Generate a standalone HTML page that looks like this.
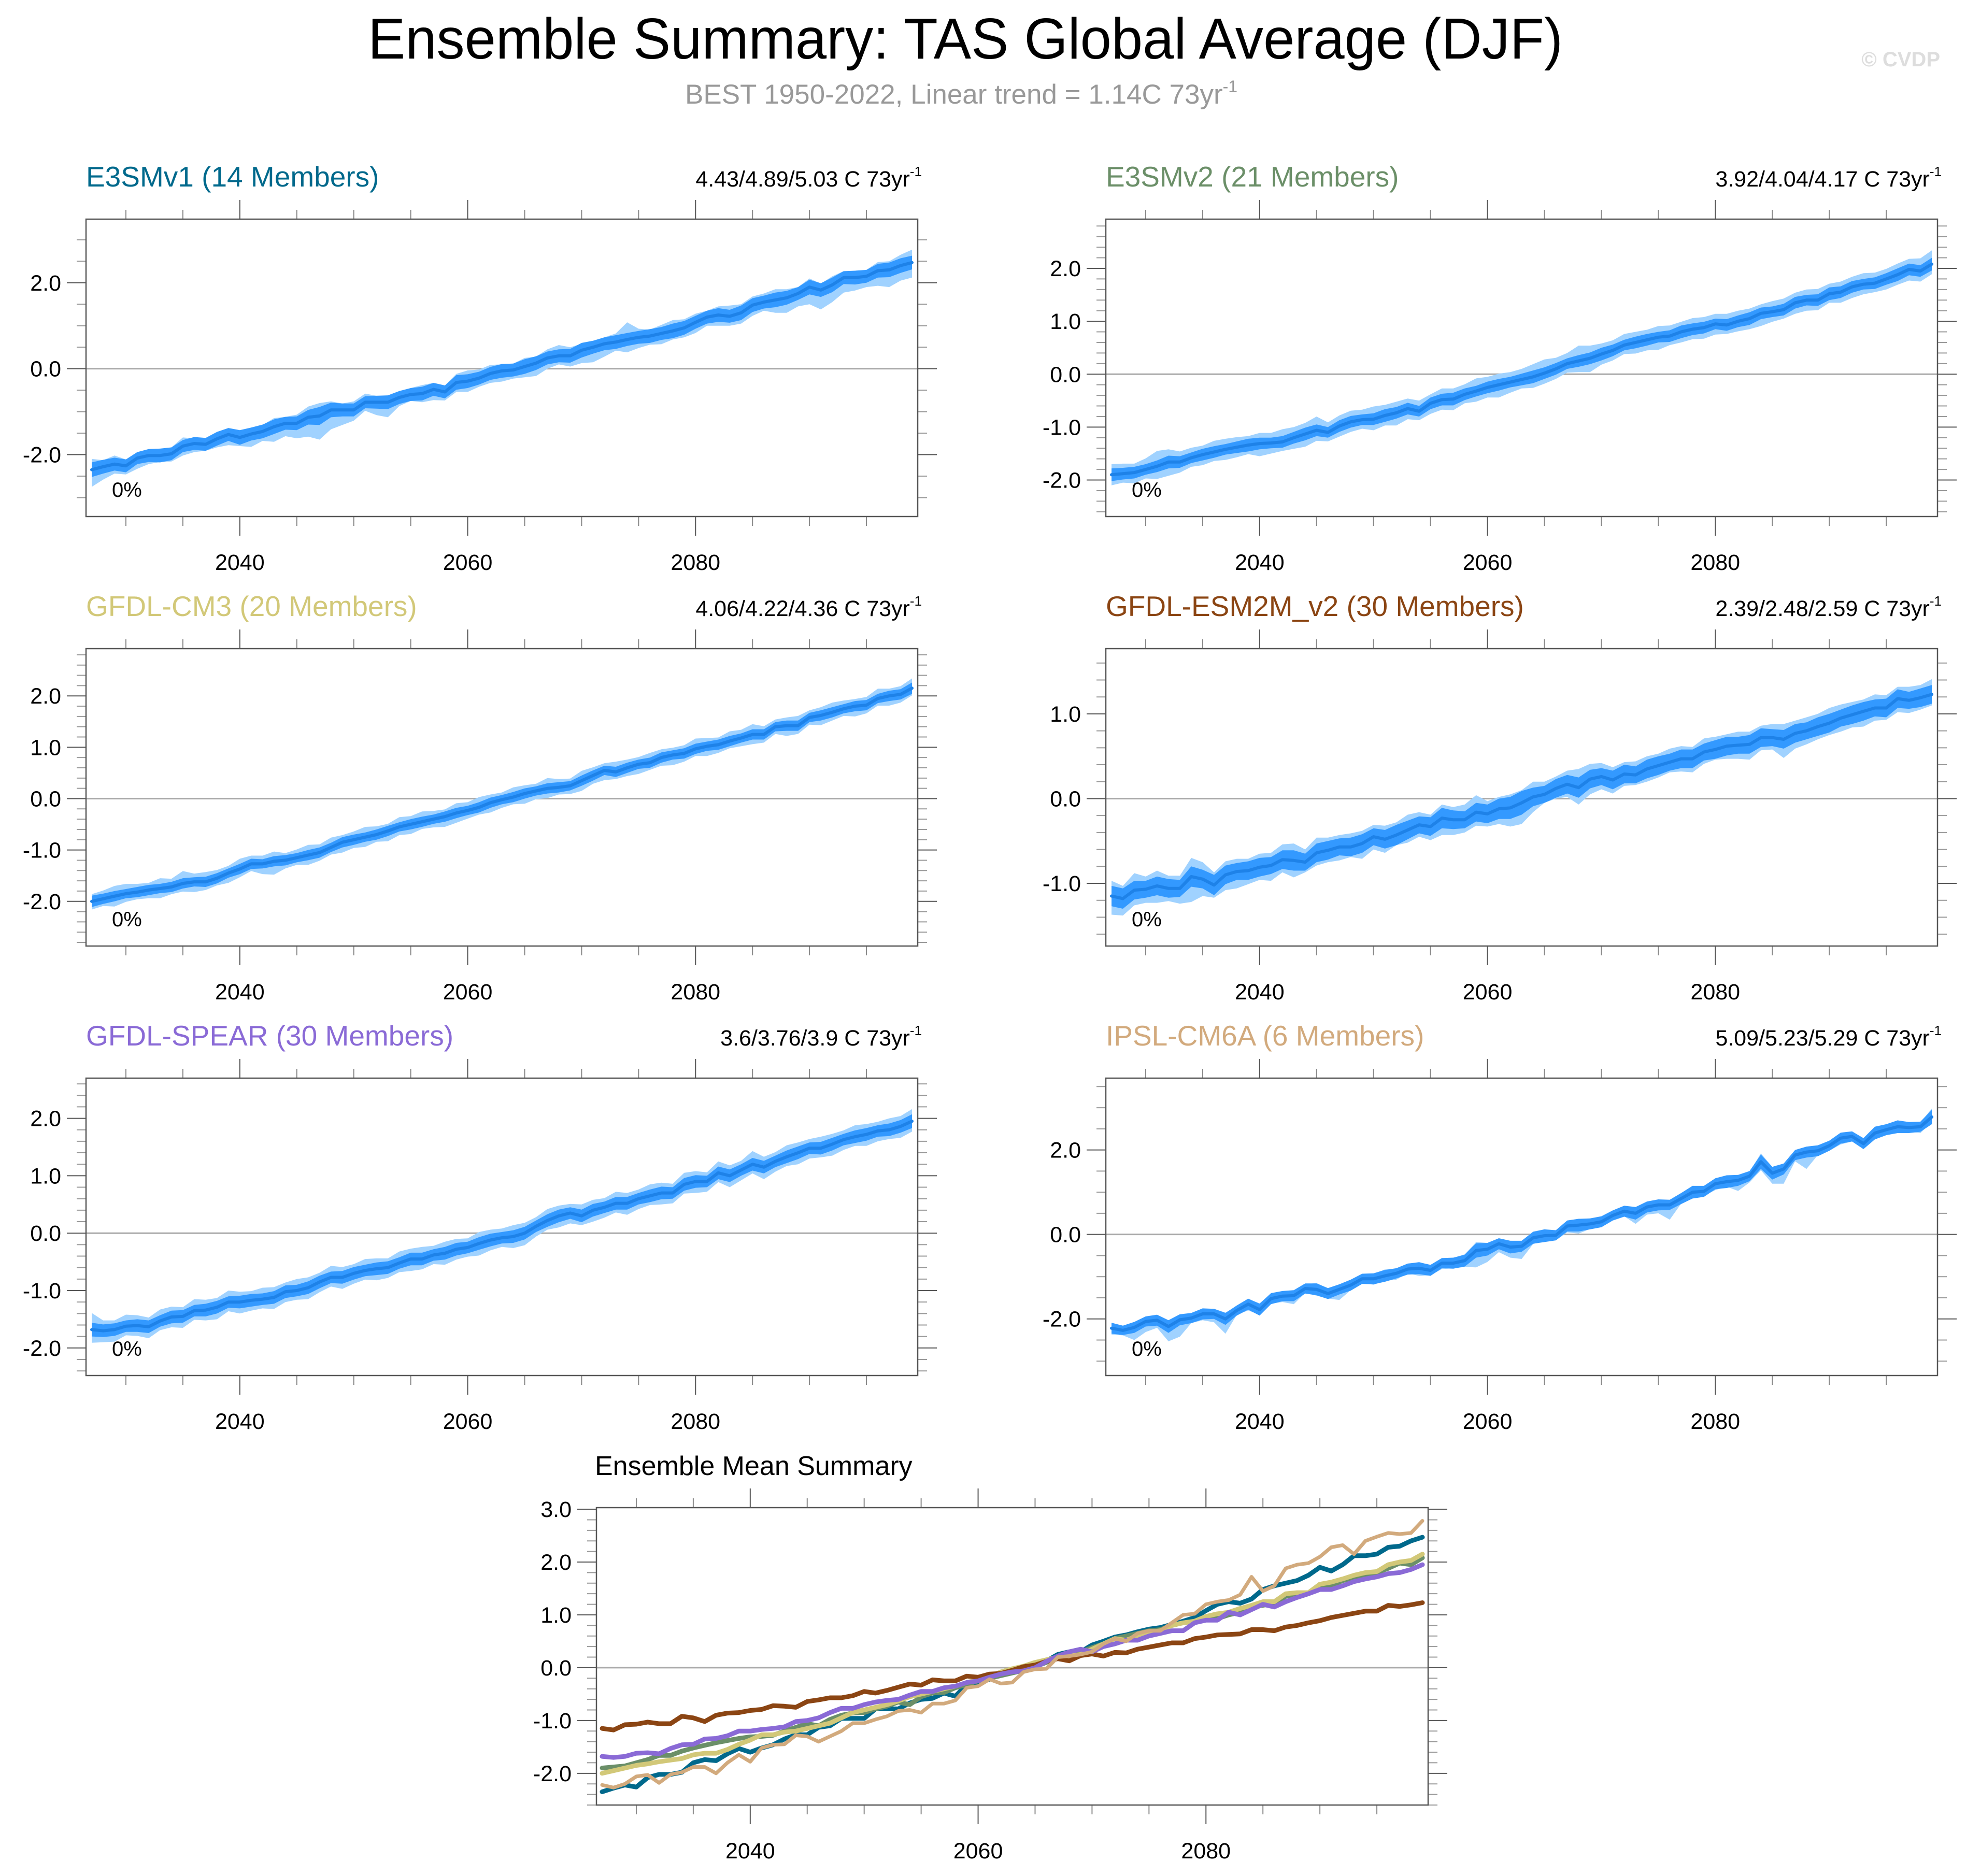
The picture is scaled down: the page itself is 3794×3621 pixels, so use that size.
<!DOCTYPE html>
<html><head><meta charset="utf-8"><title>Ensemble Summary: TAS Global Average (DJF)</title>
<style>html,body{margin:0;padding:0;background:#fff}svg{display:block}text{font-family:"Liberation Sans",Arial,sans-serif}</style>
</head><body>
<svg id="fig" xmlns="http://www.w3.org/2000/svg" width="3794" height="3621" viewBox="0 0 3794 3621">
<rect width="3794" height="3621" fill="#fff"/>
<text x="710" y="113" font-size="111" textLength="2306" lengthAdjust="spacingAndGlyphs" fill="#000">Ensemble Summary: TAS Global Average (DJF)</text>
<text x="1322" y="200" font-size="53" fill="#999">BEST 1950-2022, Linear trend = 1.14C 73yr<tspan font-size="32" dy="-22">-1</tspan></text>
<text x="3744" y="128" font-size="40" font-weight="bold" fill="#ddd" text-anchor="end">© CVDP</text>
</svg>
<script>
const NS='http://www.w3.org/2000/svg';
const svg=document.getElementById('fig');
const startYear=2027;
const meanE3v1=[-2.35,-2.28,-2.22,-2.26,-2.08,-2.02,-2.02,-1.98,-1.80,-1.74,-1.76,-1.63,-1.53,-1.60,-1.52,-1.46,-1.35,-1.27,-1.27,-1.13,-1.10,-0.96,-0.96,-0.96,-0.78,-0.78,-0.78,-0.67,-0.60,-0.58,-0.48,-0.54,-0.32,-0.29,-0.22,-0.11,-0.05,-0.03,0.05,0.13,0.25,0.30,0.30,0.43,0.50,0.58,0.62,0.68,0.73,0.76,0.82,0.88,0.95,1.08,1.20,1.25,1.22,1.30,1.48,1.55,1.60,1.65,1.75,1.90,1.83,1.95,2.12,2.12,2.15,2.28,2.30,2.40,2.47];
const meanE3v2=[-1.90,-1.88,-1.86,-1.80,-1.74,-1.66,-1.66,-1.58,-1.52,-1.47,-1.42,-1.38,-1.34,-1.31,-1.30,-1.28,-1.20,-1.13,-1.06,-1.10,-0.98,-0.90,-0.86,-0.85,-0.78,-0.73,-0.65,-0.70,-0.55,-0.48,-0.47,-0.38,-0.32,-0.25,-0.20,-0.15,-0.10,-0.05,0.02,0.10,0.20,0.25,0.30,0.38,0.45,0.55,0.60,0.65,0.70,0.72,0.80,0.85,0.88,0.95,0.93,1.00,1.05,1.15,1.18,1.22,1.35,1.40,1.40,1.52,1.55,1.65,1.70,1.72,1.80,1.88,1.98,1.95,2.08];
const meanCM3=[-2.00,-1.95,-1.90,-1.85,-1.82,-1.78,-1.75,-1.72,-1.65,-1.62,-1.62,-1.55,-1.45,-1.37,-1.27,-1.27,-1.22,-1.20,-1.15,-1.10,-1.05,-0.95,-0.85,-0.80,-0.75,-0.70,-0.63,-0.55,-0.50,-0.45,-0.40,-0.35,-0.28,-0.23,-0.17,-0.08,-0.02,0.03,0.10,0.15,0.20,0.22,0.25,0.35,0.45,0.55,0.52,0.60,0.67,0.70,0.80,0.85,0.88,0.97,1.02,1.05,1.12,1.18,1.25,1.25,1.40,1.42,1.42,1.58,1.62,1.68,1.75,1.80,1.82,1.95,2.00,2.03,2.15];
const meanESM2M=[-1.15,-1.18,-1.08,-1.07,-1.03,-1.06,-1.06,-0.92,-0.95,-1.02,-0.90,-0.86,-0.85,-0.81,-0.79,-0.72,-0.73,-0.75,-0.64,-0.61,-0.57,-0.57,-0.53,-0.45,-0.48,-0.43,-0.37,-0.31,-0.33,-0.23,-0.25,-0.25,-0.16,-0.18,-0.12,-0.11,-0.05,0.02,0.05,0.12,0.17,0.13,0.23,0.26,0.22,0.29,0.28,0.35,0.39,0.43,0.47,0.47,0.55,0.58,0.62,0.63,0.64,0.72,0.72,0.70,0.77,0.80,0.85,0.89,0.95,0.99,1.03,1.07,1.07,1.18,1.16,1.19,1.23];
const meanSPEAR=[-1.68,-1.70,-1.68,-1.62,-1.61,-1.63,-1.53,-1.46,-1.45,-1.35,-1.34,-1.29,-1.20,-1.20,-1.17,-1.15,-1.12,-1.02,-1.00,-0.95,-0.85,-0.77,-0.77,-0.70,-0.65,-0.62,-0.60,-0.52,-0.45,-0.45,-0.38,-0.35,-0.28,-0.25,-0.18,-0.12,-0.08,-0.06,0.00,0.12,0.22,0.30,0.35,0.30,0.40,0.45,0.52,0.52,0.60,0.65,0.70,0.70,0.85,0.90,0.90,1.05,1.00,1.10,1.20,1.15,1.25,1.33,1.40,1.48,1.48,1.55,1.63,1.68,1.72,1.78,1.80,1.86,1.95];
const meanIPSL=[-2.22,-2.27,-2.20,-2.06,-2.03,-2.18,-2.02,-1.98,-1.88,-1.88,-2.00,-1.80,-1.65,-1.78,-1.52,-1.46,-1.45,-1.28,-1.30,-1.40,-1.30,-1.20,-1.05,-1.05,-0.98,-0.92,-0.82,-0.80,-0.85,-0.68,-0.68,-0.62,-0.38,-0.35,-0.22,-0.30,-0.28,-0.08,-0.03,-0.02,0.20,0.22,0.25,0.30,0.45,0.55,0.50,0.65,0.70,0.70,0.85,1.00,1.02,1.20,1.25,1.28,1.38,1.72,1.45,1.55,1.88,1.95,1.98,2.10,2.28,2.32,2.15,2.40,2.48,2.55,2.53,2.55,2.78];
// outer (min/max) band offsets from mean
const loE3v1=[-0.40,-0.30,-0.22,-0.20,-0.25,-0.20,-0.15,-0.18,-0.22,-0.20,-0.15,-0.20,-0.25,-0.20,-0.30,-0.22,-0.35,-0.30,-0.35,-0.45,-0.55,-0.45,-0.35,-0.25,-0.20,-0.30,-0.35,-0.20,-0.15,-0.20,-0.25,-0.20,-0.22,-0.25,-0.20,-0.22,-0.25,-0.20,-0.25,-0.30,-0.25,-0.20,-0.25,-0.30,-0.35,-0.30,-0.20,-0.30,-0.25,-0.20,-0.25,-0.20,-0.22,-0.25,-0.20,-0.25,-0.22,-0.25,-0.25,-0.20,-0.30,-0.35,-0.30,-0.40,-0.45,-0.40,-0.35,-0.30,-0.25,-0.35,-0.40,-0.35,-0.35];
const hiE3v1=[0.25,0.15,0.20,0.15,0.12,0.15,0.10,0.15,0.20,0.12,0.15,0.12,0.15,0.12,0.15,0.15,0.20,0.15,0.20,0.25,0.30,0.20,0.15,0.20,0.20,0.15,0.15,0.12,0.15,0.20,0.15,0.15,0.20,0.25,0.20,0.20,0.15,0.15,0.20,0.15,0.20,0.25,0.20,0.15,0.15,0.15,0.20,0.40,0.20,0.15,0.20,0.25,0.20,0.20,0.15,0.20,0.25,0.20,0.20,0.20,0.25,0.20,0.15,0.20,0.15,0.20,0.15,0.10,0.15,0.20,0.20,0.25,0.30];
const loE3v2=[-0.20,-0.17,-0.20,-0.17,-0.24,-0.26,-0.20,-0.17,-0.20,-0.17,-0.20,-0.19,-0.17,-0.24,-0.20,-0.17,-0.21,-0.24,-0.20,-0.17,-0.20,-0.19,-0.17,-0.21,-0.19,-0.24,-0.20,-0.17,-0.20,-0.19,-0.21,-0.17,-0.20,-0.19,-0.24,-0.20,-0.17,-0.21,-0.20,-0.19,-0.17,-0.21,-0.26,-0.20,-0.19,-0.17,-0.21,-0.20,-0.24,-0.17,-0.20,-0.19,-0.21,-0.20,-0.17,-0.19,-0.20,-0.24,-0.19,-0.17,-0.21,-0.20,-0.19,-0.17,-0.20,-0.21,-0.19,-0.17,-0.20,-0.19,-0.21,-0.20,-0.19];
const hiE3v2=[0.20,0.19,0.17,0.21,0.29,0.24,0.20,0.19,0.17,0.21,0.20,0.19,0.17,0.20,0.19,0.24,0.20,0.21,0.26,0.19,0.20,0.21,0.19,0.24,0.20,0.21,0.19,0.20,0.17,0.21,0.20,0.19,0.24,0.20,0.21,0.19,0.20,0.24,0.26,0.21,0.20,0.29,0.24,0.20,0.19,0.21,0.20,0.19,0.21,0.20,0.19,0.21,0.20,0.19,0.21,0.20,0.19,0.17,0.20,0.21,0.19,0.20,0.21,0.19,0.20,0.19,0.21,0.20,0.19,0.21,0.20,0.24,0.26];
const loCM3=[-0.16,-0.14,-0.20,-0.16,-0.14,-0.16,-0.19,-0.14,-0.16,-0.20,-0.16,-0.14,-0.19,-0.16,-0.14,-0.20,-0.26,-0.16,-0.14,-0.19,-0.16,-0.14,-0.20,-0.16,-0.19,-0.14,-0.20,-0.16,-0.19,-0.14,-0.16,-0.20,-0.19,-0.16,-0.14,-0.19,-0.16,-0.14,-0.20,-0.16,-0.19,-0.14,-0.16,-0.20,-0.16,-0.19,-0.14,-0.16,-0.19,-0.14,-0.16,-0.20,-0.16,-0.14,-0.19,-0.16,-0.14,-0.16,-0.19,-0.16,-0.14,-0.20,-0.16,-0.14,-0.19,-0.16,-0.14,-0.20,-0.16,-0.14,-0.19,-0.16,-0.14];
const hiCM3=[0.14,0.16,0.20,0.19,0.16,0.14,0.20,0.16,0.24,0.16,0.19,0.16,0.14,0.20,0.16,0.16,0.19,0.14,0.16,0.20,0.16,0.19,0.14,0.16,0.20,0.16,0.14,0.19,0.16,0.20,0.16,0.14,0.19,0.16,0.20,0.16,0.14,0.19,0.16,0.14,0.20,0.16,0.14,0.19,0.16,0.14,0.20,0.16,0.14,0.19,0.16,0.14,0.16,0.20,0.16,0.14,0.19,0.16,0.20,0.16,0.14,0.16,0.19,0.14,0.16,0.19,0.16,0.14,0.16,0.19,0.14,0.16,0.19];
const loESM2M=[-0.22,-0.20,-0.18,-0.16,-0.20,-0.15,-0.18,-0.30,-0.20,-0.15,-0.18,-0.20,-0.16,-0.15,-0.18,-0.15,-0.20,-0.12,-0.15,-0.14,-0.16,-0.12,-0.18,-0.15,-0.16,-0.12,-0.15,-0.14,-0.16,-0.20,-0.18,-0.15,-0.16,-0.15,-0.18,-0.22,-0.25,-0.18,-0.10,-0.12,-0.15,-0.20,-0.18,-0.15,-0.16,-0.14,-0.12,-0.15,-0.14,-0.12,-0.15,-0.16,-0.14,-0.12,-0.15,-0.16,-0.18,-0.15,-0.14,-0.22,-0.18,-0.16,-0.15,-0.14,-0.16,-0.15,-0.18,-0.15,-0.14,-0.16,-0.15,-0.14,-0.13];
const hiESM2M=[0.18,0.15,0.20,0.15,0.18,0.15,0.15,0.22,0.20,0.15,0.16,0.15,0.14,0.16,0.15,0.18,0.20,0.15,0.18,0.15,0.14,0.16,0.15,0.14,0.16,0.15,0.18,0.15,0.14,0.16,0.15,0.18,0.20,0.15,0.14,0.16,0.15,0.18,0.15,0.14,0.16,0.22,0.18,0.16,0.15,0.14,0.16,0.15,0.14,0.16,0.15,0.14,0.16,0.15,0.14,0.16,0.15,0.14,0.16,0.18,0.15,0.16,0.15,0.18,0.16,0.15,0.14,0.16,0.15,0.14,0.16,0.15,0.18];
const loSPEAR=[-0.23,-0.20,-0.21,-0.16,-0.18,-0.20,-0.16,-0.18,-0.20,-0.16,-0.18,-0.21,-0.16,-0.20,-0.18,-0.16,-0.20,-0.18,-0.16,-0.20,-0.18,-0.16,-0.20,-0.18,-0.16,-0.20,-0.18,-0.16,-0.21,-0.18,-0.16,-0.20,-0.18,-0.16,-0.21,-0.18,-0.16,-0.20,-0.21,-0.18,-0.16,-0.20,-0.18,-0.16,-0.20,-0.18,-0.16,-0.20,-0.18,-0.16,-0.20,-0.18,-0.16,-0.20,-0.18,-0.16,-0.20,-0.18,-0.16,-0.21,-0.18,-0.16,-0.20,-0.18,-0.16,-0.20,-0.18,-0.16,-0.20,-0.18,-0.16,-0.20,-0.18];
const hiSPEAR=[0.29,0.18,0.16,0.20,0.18,0.16,0.20,0.18,0.16,0.20,0.18,0.16,0.20,0.18,0.16,0.20,0.18,0.16,0.20,0.18,0.16,0.20,0.18,0.16,0.20,0.18,0.16,0.20,0.18,0.21,0.16,0.20,0.18,0.16,0.20,0.18,0.16,0.20,0.18,0.16,0.20,0.18,0.16,0.20,0.18,0.16,0.20,0.18,0.16,0.20,0.18,0.16,0.20,0.18,0.16,0.20,0.18,0.16,0.23,0.18,0.16,0.20,0.18,0.16,0.20,0.18,0.16,0.20,0.18,0.16,0.20,0.18,0.21];
const loIPSL=[-0.15,-0.12,-0.30,-0.25,-0.18,-0.35,-0.40,-0.12,-0.15,-0.20,-0.35,-0.10,-0.15,-0.12,-0.12,-0.14,-0.20,-0.10,-0.15,-0.12,-0.25,-0.12,-0.10,-0.14,-0.12,-0.15,-0.10,-0.18,-0.12,-0.14,-0.12,-0.15,-0.40,-0.30,-0.20,-0.25,-0.30,-0.15,-0.10,-0.12,-0.15,-0.20,-0.12,-0.10,-0.12,-0.12,-0.25,-0.18,-0.20,-0.35,-0.12,-0.12,-0.10,-0.15,-0.12,-0.25,-0.15,-0.20,-0.25,-0.35,-0.15,-0.40,-0.10,-0.12,-0.15,-0.12,-0.10,-0.15,-0.12,-0.15,-0.10,-0.15,-0.12];
const hiIPSL=[0.12,0.10,0.12,0.10,0.12,0.15,0.10,0.12,0.10,0.12,0.15,0.10,0.12,0.15,0.12,0.10,0.12,0.10,0.15,0.12,0.10,0.12,0.10,0.12,0.15,0.10,0.12,0.15,0.12,0.10,0.12,0.15,0.20,0.15,0.12,0.15,0.12,0.15,0.15,0.10,0.12,0.15,0.12,0.12,0.10,0.12,0.15,0.12,0.12,0.10,0.12,0.15,0.12,0.12,0.15,0.12,0.10,0.20,0.15,0.12,0.10,0.12,0.12,0.10,0.12,0.10,0.12,0.15,0.12,0.15,0.12,0.10,0.20];
// inner (interquartile) band half-widths
const innerE3v1=[0.17,0.16,0.15,0.15,0.14,0.15,0.16,0.15,0.14,0.15,0.15,0.16,0.15,0.17,0.15,0.16,0.17,0.15,0.16,0.17,0.21,0.17,0.15,0.15,0.14,0.15,0.16,0.15,0.15,0.16,0.15,0.15,0.17,0.16,0.15,0.15,0.16,0.15,0.17,0.16,0.15,0.15,0.16,0.17,0.15,0.15,0.16,0.15,0.15,0.16,0.15,0.17,0.16,0.15,0.15,0.16,0.15,0.17,0.16,0.15,0.17,0.16,0.15,0.17,0.16,0.17,0.15,0.16,0.15,0.16,0.17,0.17,0.16];
const innerE3v2=[0.12,0.11,0.11,0.10,0.11,0.12,0.11,0.10,0.11,0.11,0.10,0.11,0.12,0.11,0.10,0.11,0.11,0.12,0.11,0.10,0.11,0.11,0.10,0.11,0.12,0.11,0.11,0.10,0.11,0.11,0.12,0.11,0.10,0.11,0.11,0.10,0.11,0.12,0.11,0.11,0.10,0.11,0.11,0.12,0.11,0.10,0.11,0.11,0.10,0.11,0.12,0.11,0.11,0.10,0.11,0.11,0.12,0.11,0.10,0.11,0.11,0.10,0.11,0.12,0.11,0.11,0.10,0.11,0.11,0.12,0.11,0.11,0.12];
const innerCM3=[0.11,0.10,0.10,0.09,0.10,0.10,0.09,0.10,0.10,0.09,0.10,0.10,0.09,0.10,0.10,0.09,0.10,0.10,0.09,0.10,0.10,0.09,0.10,0.10,0.09,0.10,0.10,0.09,0.10,0.10,0.09,0.10,0.10,0.09,0.10,0.10,0.09,0.10,0.10,0.09,0.10,0.10,0.09,0.10,0.10,0.09,0.10,0.10,0.09,0.10,0.10,0.09,0.10,0.10,0.09,0.10,0.10,0.09,0.10,0.10,0.09,0.10,0.10,0.09,0.10,0.10,0.09,0.10,0.10,0.09,0.10,0.10,0.11];
const innerESM2M=[0.12,0.12,0.11,0.10,0.11,0.11,0.10,0.12,0.11,0.12,0.11,0.10,0.11,0.11,0.10,0.11,0.12,0.10,0.11,0.11,0.10,0.11,0.11,0.10,0.11,0.12,0.11,0.10,0.11,0.12,0.11,0.10,0.11,0.11,0.12,0.13,0.14,0.11,0.10,0.11,0.11,0.12,0.11,0.10,0.11,0.11,0.10,0.11,0.11,0.10,0.11,0.11,0.10,0.11,0.11,0.10,0.11,0.11,0.10,0.11,0.11,0.10,0.11,0.11,0.10,0.11,0.11,0.10,0.11,0.11,0.10,0.11,0.11];
const innerSPEAR=[0.12,0.11,0.11,0.10,0.11,0.11,0.10,0.11,0.11,0.10,0.11,0.11,0.10,0.11,0.11,0.10,0.11,0.11,0.10,0.11,0.11,0.10,0.11,0.11,0.10,0.11,0.11,0.10,0.11,0.11,0.10,0.11,0.11,0.10,0.11,0.11,0.10,0.11,0.11,0.10,0.11,0.11,0.10,0.11,0.11,0.10,0.11,0.11,0.10,0.11,0.11,0.10,0.11,0.11,0.10,0.11,0.11,0.10,0.11,0.11,0.10,0.11,0.11,0.10,0.11,0.11,0.10,0.11,0.11,0.10,0.11,0.11,0.12];
const innerIPSL=[0.13,0.11,0.13,0.12,0.13,0.15,0.13,0.12,0.13,0.12,0.14,0.12,0.13,0.14,0.13,0.12,0.13,0.12,0.14,0.13,0.12,0.13,0.12,0.13,0.14,0.12,0.13,0.14,0.13,0.12,0.13,0.14,0.17,0.15,0.13,0.15,0.13,0.14,0.15,0.12,0.13,0.15,0.13,0.13,0.12,0.13,0.15,0.13,0.13,0.12,0.13,0.15,0.13,0.13,0.15,0.13,0.12,0.17,0.15,0.13,0.12,0.13,0.13,0.12,0.13,0.12,0.13,0.15,0.13,0.15,0.13,0.12,0.17];
const modelNames=['E3SMv1 (14 Members)','E3SMv2 (21 Members)','GFDL-CM3 (20 Members)','GFDL-ESM2M_v2 (30 Members)','GFDL-SPEAR (30 Members)','IPSL-CM6A (6 Members)'];
const trendLabels=['4.43/4.89/5.03 C 73yr','3.92/4.04/4.17 C 73yr','4.06/4.22/4.36 C 73yr','2.39/2.48/2.59 C 73yr','3.6/3.76/3.9 C 73yr','5.09/5.23/5.29 C 73yr'];
const pctLabels=['0%','0%','0%','0%','0%','0%'];
const xTickLabels=['2040','2060','2080'];
const xTickYears=[2040,2060,2080];

const PW=1605,PH=574;
const colors=['#00698c','#6b8f68','#d2c878','#8b4513','#8a6ad6','#d2aa7d'];
const means=[meanE3v1,meanE3v2,meanCM3,meanESM2M,meanSPEAR,meanIPSL];
const los=[loE3v1,loE3v2,loCM3,loESM2M,loSPEAR,loIPSL];
const his=[hiE3v1,hiE3v2,hiCM3,hiESM2M,hiSPEAR,hiIPSL];
const inners=[innerE3v1,innerE3v2,innerCM3,innerESM2M,innerSPEAR,innerIPSL];
const layout=[
 {x:166,y:423,ymin:-3.44,ymax:3.48,maj:2,min:0.5},
 {x:2134,y:423,ymin:-2.69,ymax:2.93,maj:1,min:0.2},
 {x:166,y:1252,ymin:-2.87,ymax:2.92,maj:1,min:0.2},
 {x:2134,y:1252,ymin:-1.74,ymax:1.77,maj:1,min:0.2},
 {x:166,y:2081,ymin:-2.48,ymax:2.70,maj:1,min:0.2},
 {x:2134,y:2081,ymin:-3.34,ymax:3.70,maj:2,min:0.5}];

function el(tag,attrs,parent){const e=document.createElementNS(NS,tag);for(const k in attrs)e.setAttribute(k,attrs[k]);(parent||svg).appendChild(e);return e;}

function makeAxes(g,L){
  const xs=yr=>L.x+(yr-2026.5)/73*PW;
  const ys=v=>L.y+(L.ymax-v)/(L.ymax-L.ymin)*PH;
  for(let yr=2030;yr<=2095;yr+=5){
    const major=xTickYears.includes(yr);const len=major?37:18;const X=xs(yr);
    const t1=el('line',{x1:X,x2:X,y1:L.y,y2:L.y-len,stroke:major?'#555':'#888','stroke-width':2},g);
    
    
    const t2=el('line',{x1:X,x2:X,y1:L.y+PH,y2:L.y+PH+len,stroke:major?'#555':'#888','stroke-width':2},g);
    
    
  }
  xTickYears.forEach((yr,i)=>{
    const t=el('text',{x:xs(yr),y:L.y+PH+103,'font-size':43,'text-anchor':'middle',fill:'#000'},g);
    t.textContent=xTickLabels[i];
    
    
  });
  const n0=Math.ceil(L.ymin/L.min-1e-6),n1=Math.floor(L.ymax/L.min+1e-6);
  for(let n=n0;n<=n1;n++){
    const v=n*L.min;const major=Math.abs(v/L.maj-Math.round(v/L.maj))<1e-6;const Y=ys(v);const len=major?37:18;
    const a=el('line',{x1:L.x-len,x2:L.x,y1:Y,y2:Y,stroke:major?'#555':'#999','stroke-width':2},g);
    
    
    const b=el('line',{x1:L.x+PW,x2:L.x+PW+len,y1:Y,y2:Y,stroke:major?'#555':'#999','stroke-width':2},g);
    
    
    if(major){
      const t=el('text',{x:L.x-48,y:Y+15,'font-size':43,'text-anchor':'end',fill:'#000'},g);
      t.textContent=(Math.abs(v)<1e-9?0:v).toFixed(1);
      
      
    }
  }
  const z=el('line',{x1:L.x,x2:L.x+PW,y1:ys(0),y2:ys(0),stroke:'#aaa','stroke-width':3},g);
  
  
  return {xs,ys};
}
function frame(g,L){
  const f=el('rect',{x:L.x,y:L.y,width:PW,height:PH,fill:'none',stroke:'#555','stroke-width':2.5},g);
  
  
}
function poly(arrTop,arrBot,xs,ys){
  const pts=[];arrTop.forEach((v,i)=>pts.push(xs(startYear+i).toFixed(1)+','+ys(v).toFixed(1)));
  for(let i=arrBot.length-1;i>=0;i--)pts.push(xs(startYear+i).toFixed(1)+','+ys(arrBot[i]).toFixed(1));
  return pts.join(' ');
}
function linePts(arr,xs,ys){return arr.map((v,i)=>xs(startYear+i).toFixed(1)+','+ys(v).toFixed(1)).join(' ');}

layout.forEach((L,k)=>{
  const g=el('g',{});
  
  
  const tt=el('text',{x:L.x,y:L.y-63,'font-size':55,fill:colors[k]},g);
  tt.textContent=modelNames[k];
  
  
  const tr=el('text',{x:L.x+PW+8,y:L.y-63,'font-size':43,'text-anchor':'end',fill:'#000'},g);
  tr.textContent=trendLabels[k];
  const sp=el('tspan',{'font-size':26,dy:-20},tr);sp.textContent='-1';
  
  
  const {xs,ys}=makeAxes(g,L);
  const m=means[k];
  const up=m.map((v,i)=>v+his[k][i]),dn=m.map((v,i)=>v+los[k][i]);
  const ui=m.map((v,i)=>v+inners[k][i]),di=m.map((v,i)=>v-inners[k][i]);
  const o=el('polygon',{points:poly(up,dn,xs,ys),fill:'#a0d2ff'},g);
  
  
  const ii=el('polygon',{points:poly(ui,di,xs,ys),fill:'#3399ff'},g);
  
  
  const ml=el('polyline',{points:linePts(m,xs,ys),fill:'none',stroke:'#1e82e8','stroke-width':6,'stroke-linejoin':'round','stroke-linecap':'round'},g);
  
  
  const p=el('text',{x:L.x+50,y:L.y+PH-38,'font-size':40,fill:'#000'},g);
  p.textContent=pctLabels[k];
  
  
  frame(g,L);
});

const S={x:1151,y:2910,ymin:-2.60,ymax:3.03,maj:1,min:0.2};
const gs=el('g',{});


const st=el('text',{x:1148,y:2847,'font-size':52,fill:'#000'},gs);
st.textContent='Ensemble Mean Summary';


const sax=makeAxes(gs,S);
means.forEach((m,k)=>{
  const l=el('polyline',{points:linePts(m,sax.xs,sax.ys),fill:'none',stroke:colors[k],'stroke-width':(k===5?7:9),'stroke-linejoin':'round','stroke-linecap':'round'},gs);
  
  
});
frame(gs,S);
</script>
</body></html>
